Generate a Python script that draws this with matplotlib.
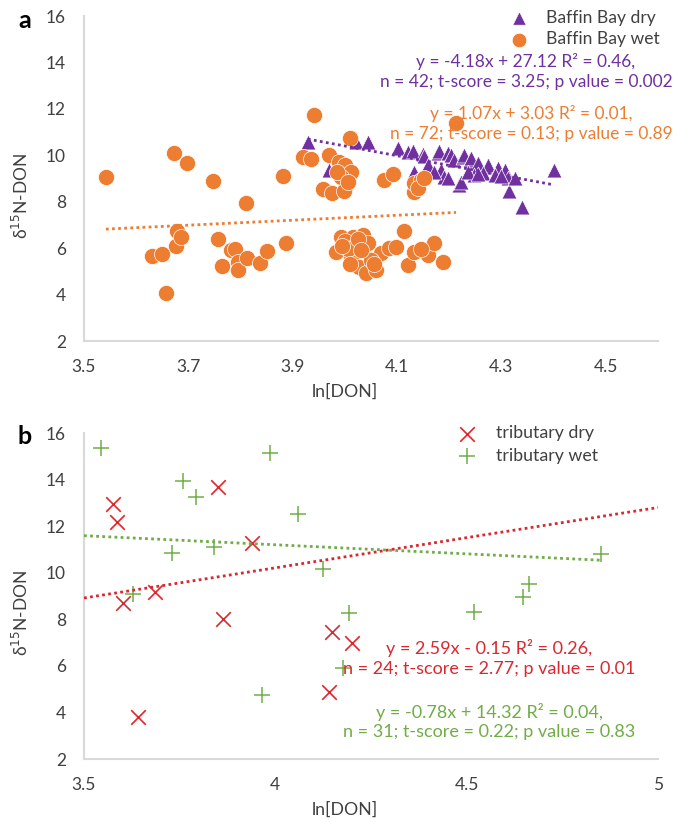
import matplotlib
matplotlib.use("Agg")
import matplotlib.pyplot as plt
import numpy as np

# ---- panel a: Baffin Bay ----
bb_dry_x = [3.929, 3.969, 4.021, 4.044, 4.102, 4.121, 4.131, 4.150, 4.152, 4.179,
            4.181, 4.198, 4.204, 4.210, 4.227, 4.229, 4.239, 4.242, 4.256, 4.275,
            4.275, 4.294, 4.306, 4.315, 4.340, 4.400, 4.133, 4.185, 4.190, 4.198,
            4.219, 4.223, 4.248, 4.265, 4.287, 4.313, 4.325, 4.160, 4.170, 4.235,
            4.255, 4.300]
bb_dry_y = [10.57, 9.36, 10.57, 10.57, 10.30, 10.15, 10.20, 10.05, 9.95, 10.10,
            10.20, 10.10, 10.00, 9.80, 9.93, 10.00, 9.80, 9.88, 9.66, 9.50,
            9.57, 9.44, 9.36, 8.45, 7.77, 9.36, 9.28, 9.36, 9.06, 9.00,
            8.72, 8.85, 9.14, 9.23, 9.14, 9.00, 9.00, 9.60, 9.30, 9.30,
            9.20, 9.10]

bb_wet_x = [3.542, 3.672, 3.698, 3.748, 3.810, 3.882, 3.941, 4.010, 3.970, 3.919,
            3.935, 3.988, 4.000, 4.012, 3.992, 3.958, 3.975, 3.998, 4.075, 4.092,
            4.133, 4.133, 4.146, 4.140, 4.152, 4.213, 3.985, 4.005,
            3.631, 3.650, 3.658, 3.677, 3.679, 3.686, 3.756, 3.765, 3.781, 3.790,
            3.796, 3.796, 3.812, 3.838, 3.850, 3.888, 3.992, 3.983, 4.015, 4.035,
            4.044, 4.012, 4.027, 4.040, 4.060, 4.069, 4.085, 4.098, 4.114, 4.121,
            4.133, 4.160, 4.171, 4.188, 4.000, 4.020, 4.050, 4.005, 4.025, 3.995,
            4.010, 4.055, 4.030, 4.145]
bb_wet_y = [9.06, 10.10, 9.66, 8.90, 7.94, 9.10, 11.73, 10.74, 10.00, 9.93,
            9.85, 9.70, 9.60, 9.27, 9.06, 8.55, 8.37, 8.45, 8.93, 9.20,
            8.40, 8.80, 8.93, 8.58, 9.00, 11.39, 9.30, 8.85,
            5.66, 5.74, 4.06, 6.09, 6.73, 6.47, 6.39, 5.22, 5.91, 5.95,
            5.40, 5.05, 5.56, 5.35, 5.87, 6.22, 6.47, 5.83, 6.47, 6.56,
            6.20, 5.60, 5.18, 4.95, 5.05, 5.78, 6.00, 6.05, 6.73, 5.27,
            5.83, 5.70, 6.20, 5.40, 6.30, 6.10, 5.50, 5.95, 6.40, 6.10,
            5.30, 5.30, 5.90, 5.95]

# ---- panel b: tributaries ----
trib_dry_x = [3.576, 3.586, 3.603, 3.641, 3.686, 3.851, 3.862, 3.940, 4.139, 4.149, 4.200]
trib_dry_y = [12.95, 12.18, 8.70, 3.80, 9.18, 13.70, 8.00, 11.28, 4.88, 7.46, 6.98]

trib_wet_x = [3.545, 3.760, 3.793, 3.985, 4.059, 3.731, 3.840, 4.125, 3.629, 4.851,
              4.662, 4.647, 4.192, 4.518, 4.178, 3.966]
trib_wet_y = [15.36, 13.94, 13.25, 15.14, 12.52, 10.85, 11.10, 10.14, 9.10, 10.80,
              9.52, 8.96, 8.27, 8.32, 5.90, 4.76]

# linear trendlines: slope, intercept, x range
fit_bb_dry = (-4.18, 27.12, 3.929, 4.400)
fit_bb_wet = (1.07, 3.03, 3.542, 4.213)
fit_trib_dry = (2.59, -0.15, 3.5, 5.0)
fit_trib_wet = (-0.78, 14.32, 3.5, 4.851)

txt_bb_dry = "y = -4.18x + 27.12 R\u00b2 = 0.46,\nn = 42; t-score = 3.25; p value = 0.002"
txt_bb_wet = "y = 1.07x + 3.03 R\u00b2 = 0.01,\nn = 72; t-score = 0.13; p value = 0.89"
txt_trib_dry = "y = 2.59x - 0.15 R\u00b2 = 0.26,\nn = 24; t-score = 2.77; p value = 0.01"
txt_trib_wet = "y = -0.78x + 14.32 R\u00b2 = 0.04,\nn = 31; t-score = 0.22; p value = 0.83"

PURPLE = "#7030A0"
ORANGE = "#ED7D31"
RED = "#D9282F"
GREEN = "#70AD47"
TXT = "#404040"
SPINE = "#D9D9D9"

plt.rcParams["font.family"] = ["Lato", "DejaVu Sans"]

fig = plt.figure(figsize=(6.78, 8.22), dpi=100)
ax1 = fig.add_axes([84 / 678, 1 - 341 / 822, 574 / 678, 325 / 822])
ax2 = fig.add_axes([84 / 678, 1 - 759 / 822, 574 / 678, 326 / 822])


def trend(ax, fit, color):
    m, b, x0, x1 = fit
    xs = np.array([x0, x1])
    ax.plot(xs, m * xs + b, color=color, linestyle=(0, (1, 1.2)), linewidth=2, zorder=4)


def style(ax):
    for s in ["top", "right"]:
        ax.spines[s].set_visible(False)
    for s in ["left", "bottom"]:
        ax.spines[s].set_color(SPINE)
        ax.spines[s].set_linewidth(1.5)
    ax.tick_params(length=0, labelsize=12.5, labelcolor=TXT, pad=13)
    ax.set_ylim(2, 16)
    ax.set_yticks(range(2, 17, 2))
    ax.set_ylabel("\u03b4$^{15}$N-DON", fontsize=12.5, color=TXT)
    ax.yaxis.set_label_coords(-0.092, 0.448)
    ax.set_xlabel("ln[DON]", fontsize=12.8, color=TXT)
    ax.xaxis.set_label_coords(0.455, -0.13)


def note(ax, x, y, s, color, size):
    ax.text(x, y, s, transform=ax.transAxes, ha="center", va="center", color=color,
            fontsize=size, linespacing=1.3, zorder=5)


# panel a
ax1.scatter(bb_dry_x, bb_dry_y, marker="^", s=115, color=PURPLE, edgecolors="white",
            linewidths=0.5, zorder=2, label="Baffin Bay dry")
ax1.scatter(bb_wet_x, bb_wet_y, marker="o", s=135, color=ORANGE, edgecolors="white",
            linewidths=0.5, zorder=3, label="Baffin Bay wet")
trend(ax1, fit_bb_dry, PURPLE)
trend(ax1, fit_bb_wet, ORANGE)
ax1.set_xlim(3.5, 4.6)
ax1.set_xticks([3.5, 3.7, 3.9, 4.1, 4.3, 4.5])
ax1.set_xticklabels(["3.5", "3.7", "3.9", "4.1", "4.3", "4.5"])
style(ax1)
note(ax1, 0.770, 0.829, txt_bb_dry, PURPLE, 12.5)
note(ax1, 0.780, 0.669, txt_bb_wet, ORANGE, 12.5)
ax1.legend(loc="upper left", bbox_to_anchor=(0.716, 1.04), frameon=False,
           fontsize=12.6, handletextpad=0.5, labelspacing=0.3, borderaxespad=0,
           labelcolor=TXT, markerscale=0.9)

# panel b
ax2.scatter(trib_dry_x, trib_dry_y, marker="x", s=110, color=RED, linewidths=1.2,
            zorder=2, label="tributary dry")
ax2.scatter(trib_wet_x, trib_wet_y, marker="+", s=120, color=GREEN, linewidths=1.1,
            zorder=3, label="tributary wet")
trend(ax2, fit_trib_dry, RED)
trend(ax2, fit_trib_wet, GREEN)
ax2.set_xlim(3.5, 5.0)
ax2.set_xticks([3.5, 4.0, 4.5, 5.0])
ax2.set_xticklabels(["3.5", "4", "4.5", "5"])
style(ax2)
note(ax2, 0.706, 0.310, txt_trib_dry, RED, 13)
note(ax2, 0.706, 0.115, txt_trib_wet, GREEN, 13)
ax2.legend(loc="upper left", bbox_to_anchor=(0.624, 1.045), frameon=False,
           fontsize=12.8, handletextpad=0.6, labelspacing=0.35, borderaxespad=0,
           labelcolor=TXT)

fig.text(25 / 678, 1 - 20 / 822, "a", fontsize=18, fontweight="bold", ha="center",
         va="center", color="black")
fig.text(25 / 678, 1 - 436 / 822, "b", fontsize=18, fontweight="bold", ha="center",
         va="center", color="black")

fig.savefig("out.png", dpi=100)
